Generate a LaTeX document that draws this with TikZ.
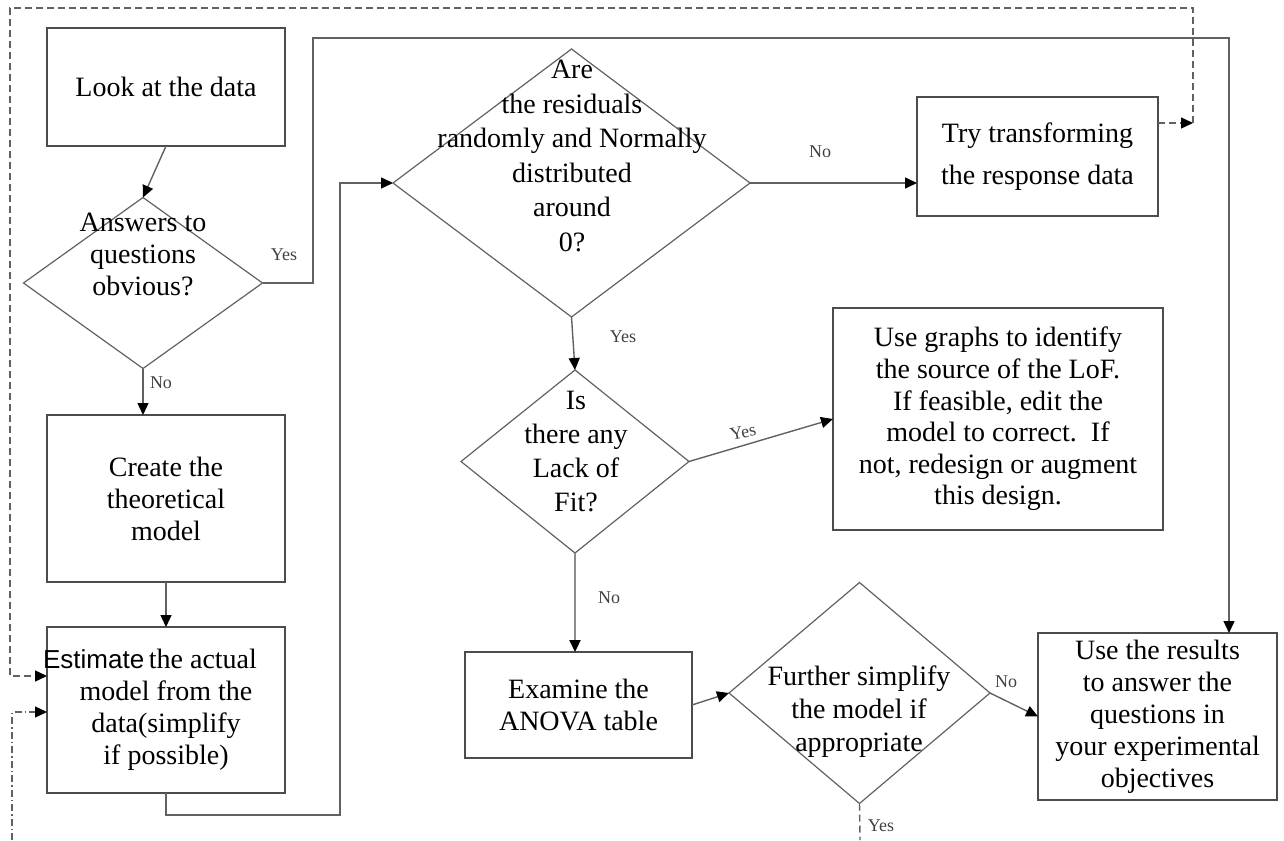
\documentclass[tikz,border=0pt]{standalone}
\usepackage{fontspec}
\setmainfont{Liberation Serif}
\setsansfont{Liberation Sans}
\usetikzlibrary{shapes.geometric,arrows.meta}
\begin{document}
\begin{tikzpicture}[x=1pt,y=-1pt,
  tip/.style={-{Triangle[length=12pt,width=11pt,black]}},
  line/.style={draw=black!62,line width=1.4pt},
  arr/.style={line,tip},
  box/.style={rectangle,draw=black!70,line width=1.4pt,inner sep=0pt,outer sep=0pt,
    align=center,font=\fontsize{28}{32}\selectfont},
  dmd/.style={diamond,draw=black!62,line width=1.2pt,inner sep=0pt,outer sep=0pt},
  dtext/.style={align=center,font=\fontsize{28}{32}\selectfont},
  lbl/.style={font=\fontsize{18}{20}\selectfont,text=black!75},
  loop/.style={draw=black!62,line width=1.4pt,dash pattern=on 7pt off 4pt}]
\useasboundingbox (0,0) rectangle (1284,840);

% decision shapes
\node[dmd,minimum width=239pt,minimum height=171pt] (ans) at (143,283) {};
\node[dmd,minimum width=357pt,minimum height=268pt] (are) at (571.5,183) {};
\node[dmd,minimum width=228pt,minimum height=183pt] (is) at (575,461.5) {};
\node[dmd,minimum width=261pt,minimum height=221pt] (fur) at (859.5,693) {};

% decision texts
\node[dtext] (ansT) at (143,254) {Answers to\\questions\\obvious?};
\node[dtext,font=\fontsize{28}{34.5}\selectfont] (areT) at (572,156) {Are\\the residuals\\randomly and Normally\\distributed\\around\\0?};
\node[dtext,font=\fontsize{28}{34}\selectfont] (isT) at (576,452) {Is\\there any\\Lack of\\Fit?};
\node[dtext,font=\fontsize{28}{33}\selectfont] (furT) at (859,712) {Further simplify\\the model if\\appropriate};

% process boxes
\node[box,minimum width=238pt,minimum height=118pt] (look) at (166,87) {Look at the data};
\node[box,minimum width=238pt,minimum height=167pt] (create) at (166,498.5) {Create the\\theoretical\\model};
\node[box,minimum width=238pt,minimum height=166pt] (est) at (166,710)
  {\makebox[0pt]{\hspace*{-32pt}{\sffamily\fontsize{26}{32}\selectfont Estimate}\,the actual}\\model from the\\data(simplify\\if possible)};
\node[box,minimum width=241pt,minimum height=119pt,font=\fontsize{28}{42}\selectfont] (try) at (1037.5,156.5) {Try transforming\\the response data};
\node[box,minimum width=330pt,minimum height=222pt,font=\fontsize{28}{31.6}\selectfont] (ug) at (998,419)
  {Use graphs to identify\\the source of the LoF.\\If feasible, edit the\\model to correct.\ \ If\\not, redesign or augment\\this design.};
\node[box,minimum width=227pt,minimum height=106pt] (exam) at (578.5,705) {Examine the\\ANOVA table};
\node[box,minimum width=239pt,minimum height=167pt] (ures) at (1157.5,716.5)
  {Use the results\\to answer the\\questions in\\your experimental\\objectives};

% routing points
\coordinate (r1) at (313,38);
\coordinate (r2) at (1229,38);
\coordinate (e1) at (340,815);
\coordinate (d1) at (1193,123);
\coordinate (d2) at (10,8);
\coordinate (d3) at (10,676);
\coordinate (d4) at (12,840);
\coordinate (f1) at (860,840);

% connectors
\draw[arr] (look.south) -- (ans.north);
\draw[arr] (ans.south) -- (ans.south |- create.north);
\draw[arr] (create.south) -- (est.north);
\draw[arr] (est.south) |- (e1) -- (e1 |- are.west) -- (are.west);
\draw[arr] (ans.east) -| (r1) -- (r2) -- (r2 |- ures.north);
\draw[arr] (are.east) -- (are.east -| try.west);
\draw[arr] (are.south) -- (is.north);
\draw[arr] (is.east) -- (ug.west);
\draw[arr,draw=black!45,line width=2.2pt] (is.south) -- (is.south |- exam.north);
\draw[arr] (exam.east) -- (fur.west);
\draw[arr] (fur.east) -- (ures.west);
\draw[loop] (fur.south) -- (f1);

% feedback loops
\draw[loop,tip] (d1 -| try.east) -- (d1);
\draw[loop,tip] (d1) |- (d2) -- (d3) -- (d3 -| est.west);
\draw[draw=black!62,line width=1.3pt,dash pattern=on 7pt off 3pt on 1.5pt off 3pt,tip] (d4) |- (est.west |- 0,712);

% branch labels
\node[lbl] (l1) at (284,255) {Yes};
\node[lbl] (l2) at (161,383) {No};
\node[lbl] (l3) at (820,152) {No};
\node[lbl] (l4) at (623,337) {Yes};
\node[lbl,rotate=12] (l5) at (743,432) {Yes};
\node[lbl] (l6) at (609,598) {No};
\node[lbl] (l7) at (1006,682) {No};
\node[lbl] (l8) at (881,826) {Yes};
\end{tikzpicture}
\end{document}
